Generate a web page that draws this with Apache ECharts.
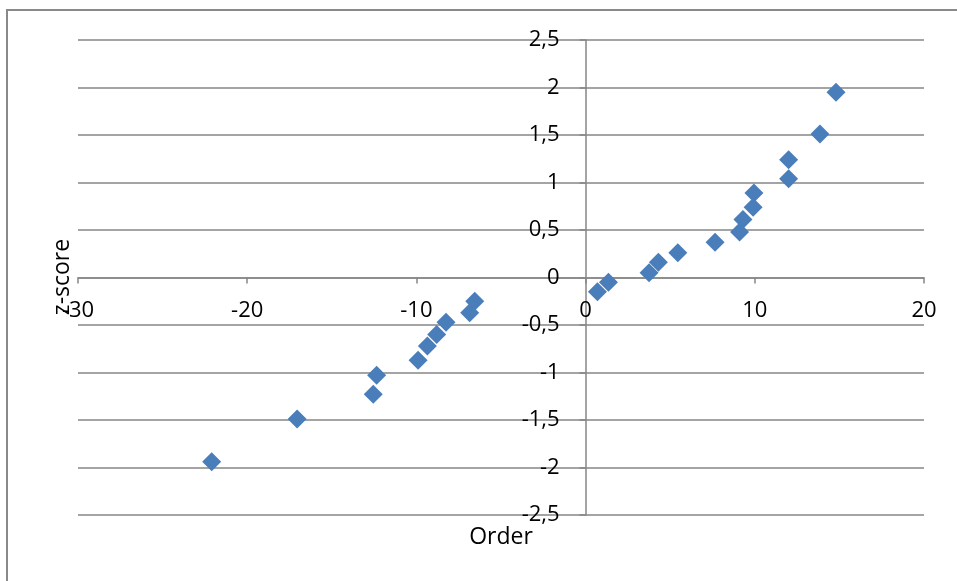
<!DOCTYPE html>
<html>
<head>
<meta charset="utf-8">
<script src="https://cdn.jsdelivr.net/npm/echarts@6/dist/echarts.min.js"></script>
<style>html,body{margin:0;padding:0;background:#fff}#c{width:957px;height:581px}</style>
</head>
<body>
<div id="c"></div>
<script>
// Order (x) values
var orderValues = [-22.1, -17.05, -12.55, -12.35, -9.9, -9.35, -8.8, -8.25, -6.85, -6.55,
                   0.7, 1.35, 3.75, 4.3, 5.45, 7.65, 9.1, 9.3, 9.9, 9.95, 12.0, 12.0, 13.85, 14.8];
// z-score (y) values
var zScores = [-1.94, -1.49, -1.23, -1.03, -0.87, -0.72, -0.60, -0.47, -0.37, -0.25,
               -0.15, -0.05, 0.05, 0.16, 0.26, 0.37, 0.48, 0.61, 0.74, 0.89, 1.04, 1.24, 1.51, 1.95];
var xTicks = {min: -30, max: 20, interval: 10};
var yTicks = {min: -2.5, max: 2.5, interval: 0.5};
var xTitle = 'Order';
var yTitle = 'z-score';

var points = orderValues.map(function (x, i) { return [x, zScores[i]]; });
var FONT = '"Open Sans", sans-serif';
var GRAY = '#868686';

var G = {left: 78, right: 33, top: 40, bottom: 66, W: 957, H: 581};
var plotW = G.W - G.left - G.right;
var plotH = G.H - G.top - G.bottom;
// offsets so that the axes cross at zero (computed from the axis ranges)
var yAxisOffset = -plotW * (0 - xTicks.min) / (xTicks.max - xTicks.min);
var xAxisOffset = -plotH * (0 - yTicks.min) / (yTicks.max - yTicks.min);

var chart = echarts.init(document.getElementById('c'), null, {renderer: 'canvas'});
chart.setOption({
  backgroundColor: '#fff',
  animation: false,
  grid: {left: G.left, right: G.right, top: G.top, bottom: G.bottom, containLabel: false},
  xAxis: {
    type: 'value', min: xTicks.min, max: xTicks.max, interval: xTicks.interval,
    position: 'bottom', offset: xAxisOffset,
    axisLine: {onZero: false, lineStyle: {color: GRAY, width: 1.5}},
    axisTick: {show: true, inside: false, length: 6, lineStyle: {color: GRAY, width: 1.5}},
    axisLabel: {color: '#000', fontSize: 22, fontFamily: FONT, margin: 22},
    splitLine: {show: false}
  },
  yAxis: {
    type: 'value', min: yTicks.min, max: yTicks.max, interval: yTicks.interval,
    position: 'left', offset: yAxisOffset,
    axisLine: {onZero: false, lineStyle: {color: GRAY, width: 1.5}},
    axisTick: {show: true, inside: false, length: 6, lineStyle: {color: GRAY, width: 1.5}},
    axisLabel: {color: '#000', fontSize: 22, fontFamily: FONT, margin: 26,
      formatter: function (v) { return String(v).replace('.', ','); }},
    splitLine: {show: true, lineStyle: {color: GRAY, width: 1.5}}
  },
  series: [{
    type: 'scatter',
    data: points,
    symbol: 'diamond',
    symbolSize: 19,
    itemStyle: {color: '#4a7ebb', opacity: 1}
  }],
  graphic: [
    {type: 'rect', shape: {x: 7, y: 10, width: 1000, height: 1000},
     style: {fill: 'none', stroke: '#898989', lineWidth: 2}, silent: true},
    {type: 'text', x: 501, y: 537,
     style: {text: xTitle, font: '23px ' + FONT, fill: '#000', textAlign: 'center', textVerticalAlign: 'middle'}},
    {type: 'text', x: 62, y: 277, rotation: Math.PI / 2,
     style: {text: yTitle, font: '23px ' + FONT, fill: '#000', textAlign: 'center', textVerticalAlign: 'middle'}}
  ]
});
</script>
</body>
</html>
